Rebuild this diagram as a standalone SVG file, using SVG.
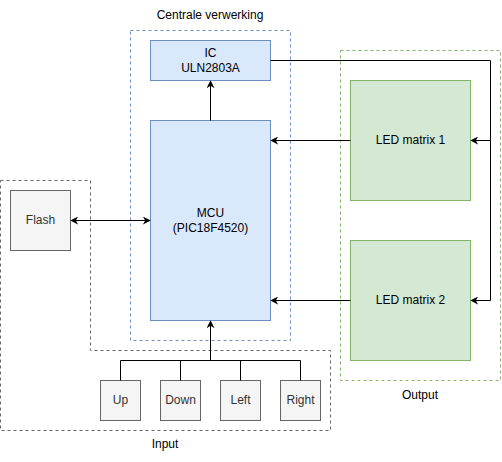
<svg xmlns="http://www.w3.org/2000/svg" width="502" height="462" viewBox="0 0 502 462">
<defs>
<style>
text{font-family:"Liberation Sans",Arial,sans-serif;font-size:12px;text-anchor:middle}
.blue{fill:#dae8fc;stroke:#6c8ebf}
.green{fill:#d5e8d4;stroke:#82b366}
.gray{fill:#f5f5f5;stroke:#666666}
.cont{fill:none;stroke-dasharray:3 3}
.line{fill:none;stroke:#000;stroke-width:1}
.dk{fill:#000}
.gt{fill:#333333}
</style>
<marker id="arr" viewBox="0 0 10 10" refX="9" refY="5" markerWidth="8" markerHeight="8" orient="auto-start-reverse" markerUnits="userSpaceOnUse">
<path d="M0,0 L10,5 L0,10 L3,5 Z" fill="#000"/>
</marker>
</defs>
<g id="containers">
<g id="input-group">
<path class="cont" stroke="#666666" d="M0.5,180.5 H90.5 V350.5 H330.5 V430.5 H0.5 Z"/>
<text x="165" y="448" class="dk">Input</text>
</g>
<g id="centrale-group">
<rect class="cont" stroke="#6c8ebf" x="130.5" y="30.5" width="160" height="310"/>
<text x="210" y="19" class="dk">Centrale verwerking</text>
</g>
<g id="output-group">
<rect class="cont" stroke="#82b366" x="340.5" y="50.5" width="160" height="330"/>
<text x="420" y="399" class="dk">Output</text>
</g>
</g>
<g id="ic"><rect class="blue" x="150.5" y="40.5" width="120" height="40"/><text x="210.5" y="57" class="dk">IC</text><text x="210.5" y="72" class="dk">ULN2803A</text></g>
<g id="mcu"><rect class="blue" x="150.5" y="120.5" width="120" height="200"/><text x="210.5" y="217" class="dk">MCU</text><text x="210.5" y="232" class="dk">(PIC18F4520)</text></g>
<g id="flash"><rect class="gray" x="10.5" y="190.5" width="60" height="60"/><text x="40.5" y="224" class="gt">Flash</text></g>
<g id="led1"><rect class="green" x="350.5" y="80.5" width="120" height="120"/><text x="410.5" y="144" class="dk">LED matrix 1</text></g>
<g id="led2"><rect class="green" x="350.5" y="240.5" width="120" height="120"/><text x="410.5" y="304" class="dk">LED matrix 2</text></g>
<g id="up"><rect class="gray" x="100.5" y="380.5" width="40" height="40"/><text x="120.5" y="404" class="gt">Up</text></g>
<g id="down"><rect class="gray" x="160.5" y="380.5" width="40" height="40"/><text x="180.5" y="404" class="gt">Down</text></g>
<g id="left"><rect class="gray" x="220.5" y="380.5" width="40" height="40"/><text x="240.5" y="404" class="gt">Left</text></g>
<g id="right"><rect class="gray" x="280.5" y="380.5" width="40" height="40"/><text x="300.5" y="404" class="gt">Right</text></g>
<g id="connectors">
<path class="line" d="M210.5,120.5 V81" marker-end="url(#arr)"/>
<path class="line" d="M270.5,60.5 H490.5 V140.5 H471" marker-end="url(#arr)"/>
<path class="line" d="M490.5,140.5 V300.5 H471" marker-end="url(#arr)"/>
<path class="line" d="M350.5,140.5 H271" marker-end="url(#arr)"/>
<path class="line" d="M350.5,300.5 H271" marker-end="url(#arr)"/>
<path class="line" d="M71,220.5 H150" marker-start="url(#arr)" marker-end="url(#arr)"/>
<path class="line" d="M120.5,380.5 V360.5 H300.5 V380.5 M180.5,380.5 V360.5 M240.5,380.5 V360.5"/>
<path class="line" d="M210.5,360.5 V321" marker-end="url(#arr)"/>
</g>
</svg>
